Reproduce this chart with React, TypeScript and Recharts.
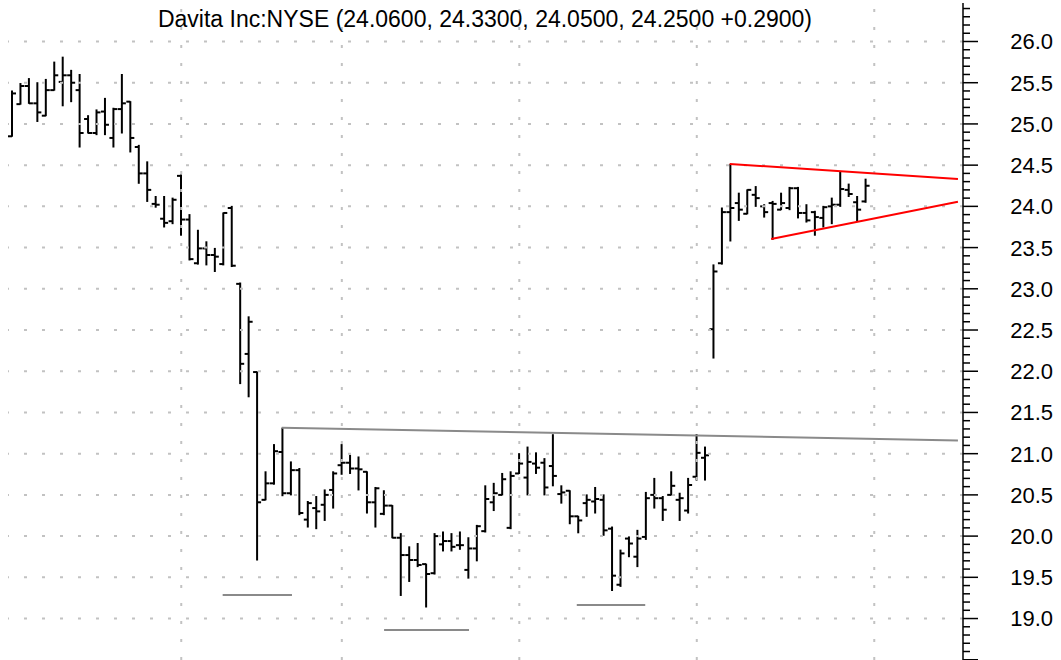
import React from 'react';
import { ComposedChart, Bar, XAxis, YAxis, ReferenceLine } from 'recharts';

// ---- Data ----
const opens = [
  24.85, 25.24, 25.46, 25.25, 25.10, 25.41, 25.51, 25.59, 25.41, 25.06,
  24.89, 25.15, 24.83, 25.18, 25.27, 24.72, 24.40, 24.03, 23.85, 23.82,
  24.37, 23.84, 23.31, 23.49, 23.41, 23.30, 23.98, 23.06, 22.21, 21.99,
  20.44, 20.64, 21.02, 20.52, 20.80, 20.20, 20.34, 20.38, 20.56, 20.86,
  20.89, 20.82, 20.78, 20.41, 20.27, 20.37, 19.98, 19.77, 19.71, 19.66,
  19.55, 19.90, 19.94, 19.89, 19.59, 19.85, 20.06, 20.41, 20.50, 20.10,
  20.76, 20.71, 20.88, 20.89, 20.85, 20.51, 20.55, 20.24, 20.40, 20.42,
  20.44, 20.09, 19.41, 19.97, 19.75, 19.99, 20.50, 20.46, 20.50, 20.44,
  20.31, 20.72, 20.95, 22.51, 23.31, 23.93, 24.04, 23.91, 24.14, 24.00,
  24.04, 23.96, 23.98, 24.22, 23.92, 23.93, 23.86, 24.00, 24.02, 24.20,
  24.05, 24.06,
];
const highs = [
  25.40, 25.49, 25.55, 25.50, 25.54, 25.75, 25.81, 25.65, 25.60, 25.10,
  25.17, 25.31, 25.19, 25.60, 25.27, 24.74, 24.54, 24.12, 24.12, 24.10,
  24.38, 23.90, 23.71, 23.57, 23.49, 23.92, 24.00, 23.07, 22.66, 21.99,
  20.78, 21.11, 21.31, 20.90, 20.82, 20.42, 20.48, 20.56, 20.78, 21.11,
  20.98, 20.96, 20.78, 20.59, 20.55, 20.37, 20.03, 19.87, 19.91, 19.66,
  20.03, 20.05, 20.03, 20.05, 19.98, 20.13, 20.61, 20.64, 20.76, 20.78,
  21.00, 21.08, 21.01, 20.94, 21.23, 20.61, 20.55, 20.24, 20.50, 20.59,
  20.50, 20.11, 19.83, 19.99, 20.07, 20.53, 20.70, 20.48, 20.78, 20.52,
  20.70, 21.23, 21.08, 23.29, 23.98, 24.51, 24.16, 24.20, 24.24, 24.02,
  24.06, 24.16, 24.23, 24.23, 24.02, 23.94, 24.00, 24.10, 24.42, 24.27,
  24.12, 24.33,
];
const lows = [
  24.85, 25.24, 25.25, 25.03, 25.10, 25.41, 25.22, 25.27, 24.72, 24.89,
  24.87, 24.87, 24.72, 24.89, 24.66, 24.28, 24.06, 23.99, 23.75, 23.79,
  23.65, 23.35, 23.30, 23.29, 23.21, 23.29, 23.27, 21.85, 21.69, 19.71,
  20.44, 20.63, 20.49, 20.50, 20.26, 20.11, 20.09, 20.19, 20.34, 20.75,
  20.76, 20.56, 20.28, 20.11, 20.26, 19.98, 19.28, 19.45, 19.63, 19.14,
  19.54, 19.82, 19.82, 19.84, 19.49, 19.70, 20.05, 20.31, 20.50, 20.09,
  20.76, 20.50, 20.76, 20.50, 20.61, 20.40, 20.15, 20.04, 20.24, 20.28,
  20.01, 19.34, 19.39, 19.75, 19.63, 19.96, 20.34, 20.19, 20.50, 20.19,
  20.28, 20.68, 20.68, 22.16, 23.30, 23.58, 23.83, 23.91, 24.00, 23.87,
  23.60, 23.96, 23.96, 23.86, 23.81, 23.65, 23.75, 23.79, 24.00, 24.12,
  23.82, 24.05,
];
const closes = [
  25.37, 25.46, 25.25, 25.14, 25.41, 25.59, 25.59, 25.50, 24.89, 24.89,
  25.14, 24.99, 25.18, 25.25, 24.83, 24.40, 24.20, 24.02, 23.80, 24.08,
  23.84, 23.36, 23.49, 23.41, 23.39, 23.92, 23.28, 22.09, 22.60, 20.41,
  20.64, 21.03, 20.52, 20.80, 20.28, 20.40, 20.30, 20.50, 20.76, 20.89,
  20.82, 20.81, 20.41, 20.58, 20.37, 19.98, 19.77, 19.71, 19.65, 19.54,
  20.00, 19.94, 19.87, 19.89, 19.85, 20.12, 20.45, 20.52, 20.69, 20.73,
  20.88, 20.90, 20.83, 20.59, 20.73, 20.53, 20.24, 20.19, 20.44, 20.45,
  20.07, 19.52, 19.79, 19.91, 19.97, 20.46, 20.46, 20.32, 20.61, 20.46,
  20.62, 21.01, 20.98, 23.21, 23.93, 23.98, 23.96, 24.20, 24.10, 23.93,
  24.03, 24.04, 24.22, 23.92, 23.83, 23.87, 23.99, 24.02, 24.21, 24.15,
  23.96, 24.25,
];

const TOTAL_SLOTS = 113; // trading-day slots incl. empty space on the right
const monthStartSlots = [20, 39, 60, 81, 102];
const majorTickValues = [19.0, 19.5, 20.0, 20.5, 21.0, 21.5, 22.0, 22.5, 23.0, 23.5, 24.0, 24.5, 25.0, 25.5, 26.0];
const Y_MIN = 18.497;
const Y_MAX = 26.467;

// Drawn trend lines: [x1 slot, y1 value, x2 slot, y2 value]
const necklineSeg = [31.9, 21.315, 111.9, 21.16];
const supportSegs = [
  [24.9, 19.285, 33.1, 19.285],
  [44.0, 18.86, 54.05, 18.86],
  [66.8, 19.164, 74.9, 19.164],
];
const triangleUpper = [84.9, 24.514, 111.9, 24.332];
const triangleLower = [89.8, 23.604, 111.9, 24.056];

const TITLE = 'Davita Inc:NYSE (24.0600, 24.3300, 24.0500, 24.2500 +0.2900)';

// minor ticks every 0.1 across the visible range
const allTicks: number[] = [];
for (let k = 185; k <= 264; k++) allTicks.push(k / 10);

const data = Array.from({ length: TOTAL_SLOTS }, (_, i) =>
  i < opens.length
    ? { i, o: opens[i], h: highs[i], l: lows[i], c: closes[i] }
    : { i, o: null, h: null, l: null, c: null }
);

const OhlcShape = (props: any) => {
  const { x, y, width, height, payload } = props;
  if (!payload || payload.h == null || x == null || y == null) return <g />;
  const top = Math.min(y, y + height);
  const bottom = Math.max(y, y + height);
  const span = payload.h - payload.l;
  const toY = (v: number) => (span === 0 ? top : top + ((payload.h - v) / span) * (bottom - top));
  const cx = x + width / 2;
  const yo = toY(payload.o);
  const yc = toY(payload.c);
  return (
    <g stroke="#000" strokeWidth={2}>
      <line x1={cx} x2={cx} y1={top - 0.5} y2={bottom + 0.5} />
      <line x1={cx - 4} x2={cx} y1={yo} y2={yo} />
      <line x1={cx} x2={cx + 4} y1={yc} y2={yc} />
    </g>
  );
};

const AxisTick = (props: any) => {
  const { x, y, payload } = props;
  const v = payload.value as number;
  const major = Math.abs(v * 2 - Math.round(v * 2)) < 1e-6;
  const labelled = majorTickValues.some((m) => Math.abs(m - v) < 1e-6);
  return (
    <g>
      <line x1={x} x2={x + (major ? 15 : 7)} y1={y} y2={y} stroke="#000" strokeWidth={1.5} />
      {labelled && (
        <text
          x={x + 90}
          y={y}
          dy="0.36em"
          textAnchor="end"
          fontSize={22}
          fontFamily="Arial, 'Liberation Sans', sans-serif"
          fill="#000"
        >
          {v.toFixed(1)}
        </text>
      )}
    </g>
  );
};

const gridStroke = '#c2c2c2';

export default function App() {
  return (
    <div style={{ position: 'absolute', left: 0, top: 0, width: 1061, height: 660, background: '#fff', overflow: 'hidden' }}>
      <ComposedChart
        width={1061}
        height={660}
        data={data}
        margin={{ top: 3, right: 0, bottom: 0, left: 8 }}
        barCategoryGap={0}
      >
        <XAxis xAxisId="cat" dataKey="i" type="category" hide />
        <XAxis xAxisId="num" dataKey="i" type="number" domain={[-0.5, TOTAL_SLOTS - 0.5]} allowDataOverflow hide />
        <YAxis
          orientation="right"
          width={98}
          type="number"
          domain={[Y_MIN, Y_MAX]}
          allowDataOverflow
          ticks={allTicks}
          interval={0}
          tickLine={false}
          tickSize={0}
          tickMargin={0}
          axisLine={{ stroke: '#000', strokeWidth: 1.5 }}
          tick={<AxisTick />}
        />
        {majorTickValues.map((v) => (
          <ReferenceLine
            key={'h' + v}
            xAxisId="num"
            y={v}
            stroke={gridStroke}
            strokeWidth={2}
            strokeDasharray="3 15"
          />
        ))}
        {monthStartSlots.map((s) => (
          <ReferenceLine
            key={'v' + s}
            xAxisId="num"
            x={s}
            stroke={gridStroke}
            strokeWidth={2}
            strokeDasharray="3 15"
          />
        ))}
        <Bar
          xAxisId="cat"
          dataKey={(d: any) => (d.h == null ? null : [d.l, d.h])}
          barSize={8}
          shape={<OhlcShape />}
          isAnimationActive={false}
        />
        <ReferenceLine
          xAxisId="num"
          segment={[{ x: necklineSeg[0], y: necklineSeg[1] }, { x: necklineSeg[2], y: necklineSeg[3] }]}
          stroke="#8a8a8a"
          strokeWidth={2}
        />
        {supportSegs.map((s, k) => (
          <ReferenceLine
            key={'s' + k}
            xAxisId="num"
            segment={[{ x: s[0], y: s[1] }, { x: s[2], y: s[3] }]}
            stroke="#8a8a8a"
            strokeWidth={2}
          />
        ))}
        <ReferenceLine
          xAxisId="num"
          segment={[{ x: triangleUpper[0], y: triangleUpper[1] }, { x: triangleUpper[2], y: triangleUpper[3] }]}
          stroke="#ff0000"
          strokeWidth={2}
        />
        <ReferenceLine
          xAxisId="num"
          segment={[{ x: triangleLower[0], y: triangleLower[1] }, { x: triangleLower[2], y: triangleLower[3] }]}
          stroke="#ff0000"
          strokeWidth={2}
        />
      </ComposedChart>
      <svg width={1061} height={40} style={{ position: 'absolute', left: 0, top: 0, pointerEvents: 'none' }}>
        <text
          x={485}
          y={27}
          textAnchor="middle"
          fontSize={23}
          fontFamily="Arial, 'Liberation Sans', sans-serif"
          fill="#000"
        >
          {TITLE}
        </text>
      </svg>
    </div>
  );
}
